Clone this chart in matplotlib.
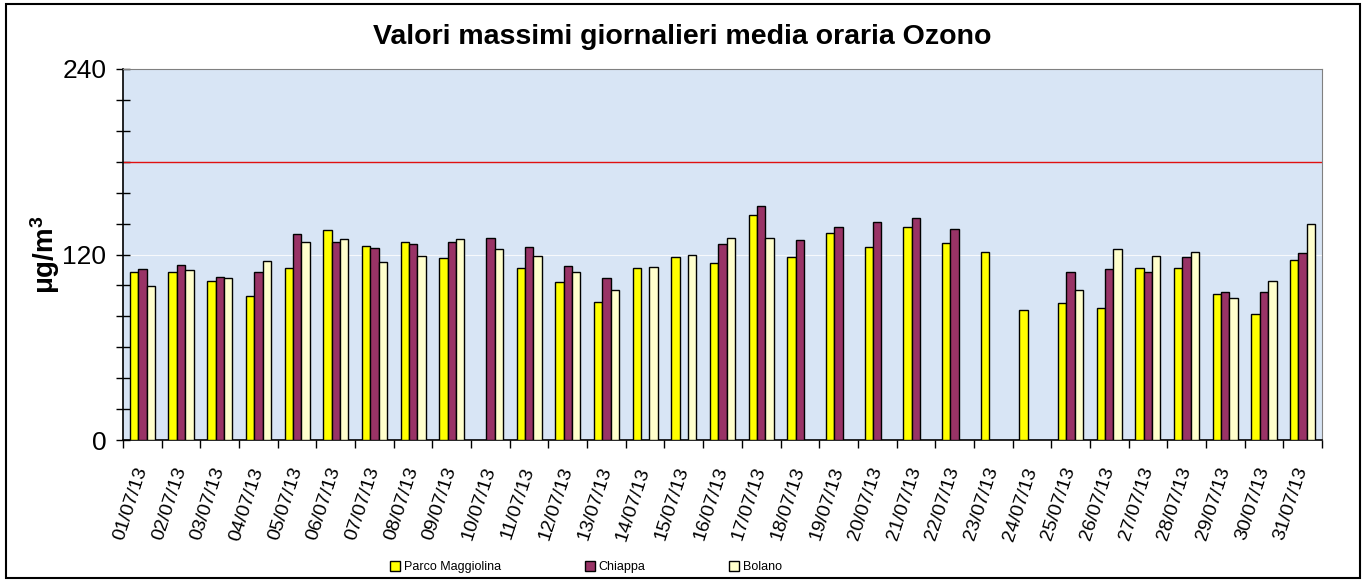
import matplotlib
matplotlib.use("Agg")
import matplotlib.pyplot as plt
import numpy as np
from matplotlib.patches import Rectangle
from matplotlib.ticker import MultipleLocator

plt.rcParams['font.family'] = ['Liberation Sans', 'DejaVu Sans']
plt.rcParams['mathtext.fontset'] = 'custom'
plt.rcParams['mathtext.rm'] = 'Liberation Sans'
plt.rcParams['mathtext.bf'] = 'Liberation Sans:bold'

days = ["%02d/07/13" % d for d in range(1, 32)]
nan = np.nan
parco_maggiolina = [108.6, 109.0, 102.8, 93.3, 111.0, 135.8, 125.4, 128.0, 117.7, nan,
                    111.4, 102.4, 89.4, 111.0, 118.3, 114.2, 145.5, 118.1, 134.0, 124.8,
                    137.9, 127.6, 121.3, 83.8, 88.4, 85.3, 111.4, 111.4, 94.4, 81.5, 116.4]
chiappa = [110.6, 113.0, 105.6, 109.0, 133.4, 128.0, 124.1, 126.5, 128.4, 130.4,
           124.6, 112.5, 104.7, nan, nan, 126.5, 151.3, 129.7, 137.5, 141.2,
           143.3, 136.2, nan, nan, 109.0, 110.6, 108.6, 118.1, 95.7, 95.7, 120.9]
bolano = [99.8, 109.7, 104.7, 116.0, 128.0, 130.0, 114.9, 118.8, 130.0, 123.7,
          118.8, 109.0, 97.0, 111.9, 119.8, 130.8, 130.8, nan, nan, nan,
          nan, nan, nan, nan, 97.0, 123.7, 118.8, 121.8, 92.0, 102.8, 139.9]
threshold = 180

series = [("Parco Maggiolina", parco_maggiolina, "#FFFF00"),
          ("Chiappa", chiappa, "#993366"),
          ("Bolano", bolano, "#FFFFCC")]

fig = plt.figure(figsize=(13.65, 5.8), dpi=100)
ax = fig.add_axes([123 / 1365, 1 - 440 / 580, (1322 - 123) / 1365, (440 - 69) / 580])
ax.set_facecolor("#d8e5f5")

x = np.arange(len(days))
w = 0.216
for i, (name, vals, col) in enumerate(series):
    vals = np.array(vals, dtype=float)
    ok = ~np.isnan(vals)
    ax.bar(x[ok] + (i - 1) * w, vals[ok], width=w, color=col, edgecolor="black",
           linewidth=1.0, label=name, zorder=3)

ax.axhline(120, color="white", lw=0.8, alpha=0.8, zorder=1)
ax.axhline(threshold, color="#e01010", lw=1.0, zorder=2)

ax.set_xlim(-0.5, len(days) - 0.5)
ax.set_ylim(0, 240)
ax.yaxis.set_major_locator(MultipleLocator(120))
ax.yaxis.set_minor_locator(MultipleLocator(20))
ax.tick_params(axis="y", which="both", direction="inout", length=10, width=1,
               labelsize=19, pad=7)
ax.set_xticks(x)
ax.set_xticklabels(days, rotation=72, ha="right", va="center",
                   rotation_mode="anchor", fontsize=14)
ax.tick_params(axis="x", which="major", length=0, pad=20)
ax.set_xticks(np.arange(-0.5, len(days)), minor=True)
ax.tick_params(axis="x", which="minor", direction="out", length=6, width=1)

for s in ["top", "right"]:
    ax.spines[s].set_color("#808080")
for s in ["left", "bottom"]:
    ax.spines[s].set_color("black")
    ax.spines[s].set_linewidth(1.2)

ax.set_ylabel(r"$\mathbf{\mu g/m^3}$", fontsize=20)
ax.yaxis.set_label_coords(-0.051, 0.5)

fig.text(0.5, 1 - 37 / 580, "Valori massimi giornalieri media oraria Ozono",
         ha="center", va="center", fontsize=20.5, fontweight="bold")

fig.legend(loc="center", bbox_to_anchor=(586 / 1365, 1 - 567 / 580), ncol=3,
           frameon=False, fontsize=9, handlelength=0.8, handleheight=0.8,
           handletextpad=0.3, columnspacing=6.7)

fig.add_artist(Rectangle((6 / 1365, 2 / 580), 1354 / 1365, 574 / 580,
                         transform=fig.transFigure, fill=False,
                         edgecolor="black", lw=1.5))

fig.savefig("out.png", dpi=100)
